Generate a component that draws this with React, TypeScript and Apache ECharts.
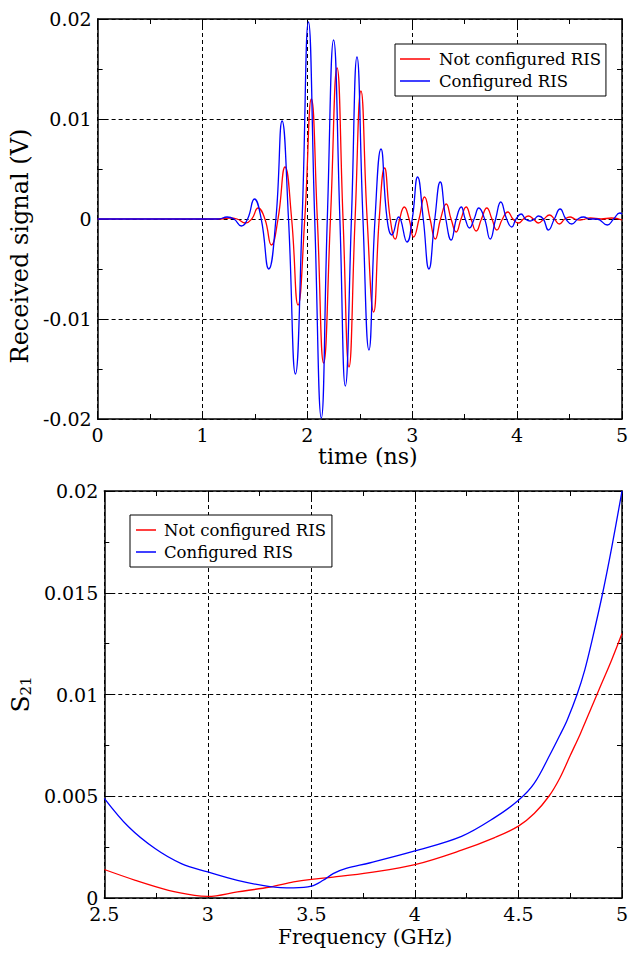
import React, { useEffect, useRef } from "react";
import * as echarts from "echarts";

const FONT = "DejaVu Serif";

// ---- Data ----
const seriesNames = ["Not configured RIS", "Configured RIS"];

// Top panel: received signal (V) vs time (ns) — extrema and zero crossings
const redSignal: [number, number][] = [
  [0, 0], [1.15, 0], [1.26, 0.0001], [1.33, 0], [1.41, -0.0004], [1.47, 0], [1.53, 0.0011], [1.595, 0],
  [1.657, -0.0026], [1.72, 0], [1.787, 0.0052], [1.85, 0], [1.911, -0.0086], [1.975, 0], [2.038, 0.012],
  [2.095, 0], [2.155, -0.0144], [2.22, 0], [2.283, 0.0151], [2.34, 0], [2.397, -0.0148], [2.455, 0],
  [2.511, 0.0128], [2.57, 0], [2.632, -0.0093], [2.685, 0], [2.736, 0.0051], [2.79, 0], [2.838, -0.002],
  [2.88, 0], [2.924, 0.0012], [2.97, 0], [3.013, -0.0018], [3.065, 0], [3.117, 0.0022], [3.17, 0],
  [3.219, -0.002], [3.27, 0], [3.324, 0.0015], [3.37, 0], [3.419, -0.0013], [3.465, 0], [3.514, 0.0012],
  [3.56, 0], [3.61, -0.0012], [3.66, 0], [3.711, 0.0011], [3.76, 0], [3.806, -0.0011], [3.86, 0],
  [3.911, 0.0007], [3.96, 0], [4.013, -0.0004], [4.06, 0], [4.108, 0.0003], [4.155, 0], [4.203, -0.0004],
  [4.255, 0], [4.308, 0.0004], [4.355, 0], [4.403, -0.0005], [4.455, 0], [4.505, 0.0002], [4.55, 0],
  [4.6, -0.0001], [4.7, 0.0001], [4.8, 0], [4.9, 0.0001], [5.0, -0.0001],
];

const blueSignal: [number, number][] = [
  [0, 0], [1.15, 0], [1.235, 0.0002], [1.3, 0], [1.371, -0.0007], [1.43, 0], [1.495, 0.002], [1.56, 0],
  [1.632, -0.005], [1.7, 0], [1.759, 0.0098], [1.82, 0], [1.886, -0.0155], [1.95, 0], [2.01, 0.0197],
  [2.07, 0], [2.133, -0.0199], [2.19, 0], [2.25, 0.0179], [2.31, 0], [2.362, -0.0167], [2.42, 0],
  [2.473, 0.0162], [2.53, 0], [2.587, -0.0131], [2.645, 0], [2.702, 0.007], [2.76, 0], [2.806, -0.0016],
  [2.87, 0.0002], [2.95, -0.0023], [3.0, 0], [3.051, 0.0042], [3.105, 0], [3.159, -0.005], [3.215, 0],
  [3.267, 0.0037], [3.32, 0], [3.371, -0.0021], [3.42, 0], [3.467, 0.0012], [3.505, 0], [3.546, -0.0009],
  [3.59, 0], [3.635, 0.0011], [3.69, 0], [3.743, -0.002], [3.795, 0], [3.844, 0.0017], [3.9, 0],
  [3.949, -0.0008], [3.99, 0], [4.038, 0.0005], [4.08, 0], [4.124, -0.0002], [4.165, 0], [4.203, 0.0003],
  [4.25, 0], [4.298, -0.0011], [4.355, 0], [4.41, 0.001], [4.465, 0], [4.521, -0.0005], [4.58, 0],
  [4.632, 0.0002], [4.7, 0], [4.76, 0], [4.86, -0.0006], [4.92, 0], [4.98, 0.0006], [5.0, 0.0005],
];

// Bottom panel: S21 vs frequency (GHz)
const redS21: [number, number][] = [
  [2.5, 0.0014], [2.65, 0.00087], [2.81, 0.00038], [2.936, 0.00013], [3.0, 0.00008], [3.143, 0.0003],
  [3.3, 0.00054], [3.414, 0.00079], [3.5, 0.00092], [3.605, 0.00103], [3.78, 0.00125], [4.0, 0.00164],
  [4.225, 0.00235], [4.385, 0.00297], [4.5, 0.00353], [4.576, 0.00415], [4.647, 0.005], [4.7, 0.0059],
  [4.75, 0.007], [4.8, 0.0081], [4.85, 0.0093], [4.9, 0.0105], [4.95, 0.0117], [5.0, 0.013],
];

const blueS21: [number, number][] = [
  [2.5, 0.0049], [2.617, 0.0035], [2.745, 0.00243], [2.872, 0.00169], [3.0, 0.00128], [3.143, 0.00087],
  [3.3, 0.00056], [3.414, 0.0005], [3.5, 0.00058], [3.557, 0.00087], [3.605, 0.0012], [3.668, 0.00145],
  [3.78, 0.00172], [4.0, 0.00231], [4.225, 0.00303], [4.385, 0.00395], [4.5, 0.0048], [4.576, 0.00563],
  [4.655, 0.0071], [4.7, 0.008], [4.735, 0.00874], [4.783, 0.01], [4.82, 0.0112], [4.854, 0.0126],
  [4.907, 0.015], [4.95, 0.0172], [5.0, 0.02],
];

const COLORS = ["#ff0000", "#0000ff"];

function makeAxis(
  gridIndex: number,
  position: string,
  min: number,
  max: number,
  interval: number,
  main: boolean,
  extra: any = {}
) {
  return {
    type: "value",
    gridIndex,
    position,
    min,
    max,
    interval,
    axisLine: { show: true, onZero: false, lineStyle: { color: "#000", width: 1.5 } },
    axisTick: { show: true, inside: true, length: 8, lineStyle: { color: "#000", width: 1 } },
    minorTick: { show: true, splitNumber: 2, length: 5, lineStyle: { color: "#000", width: 1 } },
    axisLabel: {
      show: main,
      fontFamily: FONT,
      fontSize: 19,
      color: "#000",
      margin: 6,
    },
    splitLine: {
      show: main,
      lineStyle: { color: "#000", type: [4, 3], width: 1 },
    },
    ...extra,
  };
}

export default function App() {
  const ref = useRef<HTMLDivElement>(null);
  useEffect(() => {
    document.body.style.margin = "0";
    const chart = echarts.init(ref.current!, null, { renderer: "svg" });
    const legendBase = {
      data: seriesNames,
      orient: "vertical",
      icon: "rect",
      itemHeight: 1.5,
      itemGap: 0,
      borderColor: "#000",
      borderWidth: 1,
      backgroundColor: "#fff",
      selectedMode: false,
    };
    const option: any = {
      animation: false,
      backgroundColor: "#fff",
      textStyle: { fontFamily: FONT },
      grid: [
        { left: 97, top: 19, width: 525, height: 400 },
        { left: 97, top: 491, width: 525, height: 407 },
      ],
      xAxis: [
        makeAxis(0, "bottom", 0, 5, 1, true, {
          name: "time (ns)",
          nameLocation: "middle",
          nameGap: 26,
          nameTextStyle: { fontFamily: FONT, fontSize: 22, color: "#000", padding: [0, 0, 0, 16] },
        }),
        makeAxis(0, "top", 0, 5, 1, false),
        makeAxis(1, "bottom", 2.5, 5, 0.5, true, {
          name: "Frequency (GHz)",
          nameLocation: "middle",
          nameGap: 29,
          nameTextStyle: { fontFamily: FONT, fontSize: 20, color: "#000", padding: [0, 0, 0, 4] },
        }),
        makeAxis(1, "top", 2.5, 5, 0.5, false),
      ],
      yAxis: [
        makeAxis(0, "left", -0.02, 0.02, 0.01, true, {
          name: "Received signal (V)",
          nameLocation: "middle",
          nameGap: 62,
          nameTextStyle: { fontFamily: FONT, fontSize: 24, color: "#000", padding: [0, 54, 0, 0] },
        }),
        makeAxis(0, "right", -0.02, 0.02, 0.01, false),
        makeAxis(1, "left", 0, 0.02, 0.005, true, {
          name: "{s|S}{sub|21}",
          nameLocation: "middle",
          nameGap: 52,
          nameTextStyle: {
            fontFamily: FONT,
            color: "#000",
            rich: {
              s: { fontFamily: FONT, fontSize: 25, color: "#000", lineHeight: 30, verticalAlign: "bottom" },
              sub: { fontFamily: FONT, fontSize: 15, color: "#000", lineHeight: 22, verticalAlign: "bottom" },
            },
          },
        }),
        makeAxis(1, "right", 0, 0.02, 0.005, false),
      ],
      legend: [
        {
          ...legendBase,
          left: 395,
          top: 44,
          itemWidth: 30,
          padding: [4, 5, 4, 5],
          textStyle: { fontFamily: FONT, fontSize: 16.5, color: "#000", padding: [0, 0, 0, 4], lineHeight: 22 },
        },
        {
          ...legendBase,
          left: 130,
          top: 515,
          itemWidth: 20,
          padding: [4, 6, 4, 6],
          textStyle: { fontFamily: FONT, fontSize: 16.5, color: "#000", padding: [0, 0, 0, 3], lineHeight: 22 },
        },
      ],
      series: [
        {
          name: seriesNames[0],
          type: "line",
          xAxisIndex: 0,
          yAxisIndex: 0,
          data: redSignal,
          symbol: "none",
          smooth: 0.5,
          color: COLORS[0],
          lineStyle: { color: COLORS[0], width: 1.3 },
        },
        {
          name: seriesNames[1],
          type: "line",
          xAxisIndex: 0,
          yAxisIndex: 0,
          data: blueSignal,
          symbol: "none",
          smooth: 0.5,
          color: COLORS[1],
          lineStyle: { color: COLORS[1], width: 1.3 },
        },
        {
          name: seriesNames[0],
          type: "line",
          xAxisIndex: 2,
          yAxisIndex: 2,
          data: redS21,
          symbol: "none",
          smooth: 0.35,
          color: COLORS[0],
          lineStyle: { color: COLORS[0], width: 1.3 },
        },
        {
          name: seriesNames[1],
          type: "line",
          xAxisIndex: 2,
          yAxisIndex: 2,
          data: blueS21,
          symbol: "none",
          smooth: 0.35,
          color: COLORS[1],
          lineStyle: { color: COLORS[1], width: 1.3 },
        },
      ],
    };
    chart.setOption(option);
    return () => chart.dispose();
  }, []);
  return <div ref={ref} style={{ width: 643, height: 955 }} />;
}
